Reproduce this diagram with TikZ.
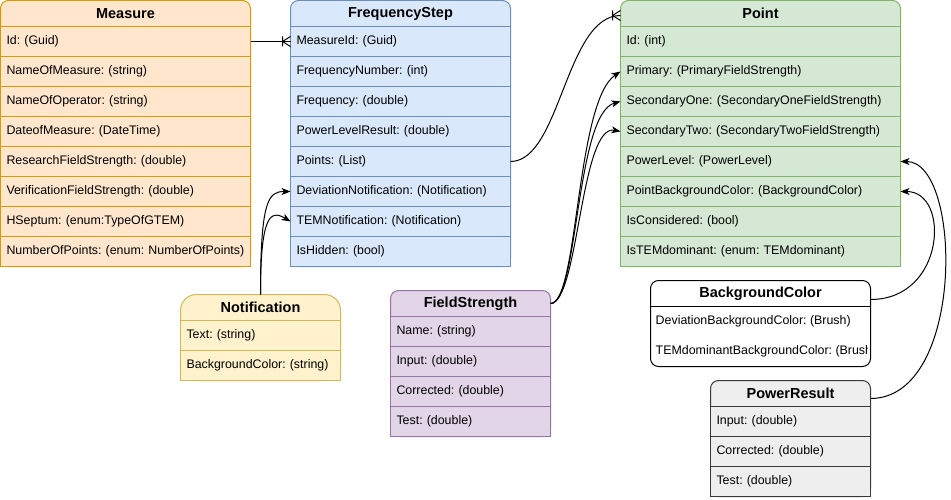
\documentclass[tikz,border=0pt]{standalone}
\usepackage{fontspec}
\setmainfont{Liberation Sans}
\usetikzlibrary{arrows.meta}
\frenchspacing
\hyphenpenalty=10000

\definecolor{measurefill}{HTML}{FFE6CC}
\definecolor{measureline}{HTML}{D79B00}
\definecolor{freqfill}{HTML}{DAE8FC}
\definecolor{freqline}{HTML}{6C8EBF}
\definecolor{pointfill}{HTML}{D5E8D4}
\definecolor{pointline}{HTML}{82B366}
\definecolor{notiffill}{HTML}{FFF2CC}
\definecolor{notifline}{HTML}{D6B656}
\definecolor{fieldfill}{HTML}{E1D5E7}
\definecolor{fieldline}{HTML}{9673A6}
\definecolor{powerfill}{HTML}{EEEEEE}
\definecolor{powerline}{HTML}{36393D}

\tikzset{
  tablebox/.style={draw, line width=1pt, rounded corners=8pt, anchor=north west,
    inner sep=0pt, outer sep=0pt},
  headtext/.style={anchor=north, minimum height=26pt, inner sep=0pt, outer sep=0pt,
    font=\fontsize{14.5}{17}\selectfont\bfseries},
  rowbox/.style={draw, line width=1pt, anchor=north west, minimum height=30pt,
    inner xsep=6pt, inner ysep=0pt, outer sep=0pt, align=left,
    font=\fontsize{12.4}{15}\selectfont},
  rowtext/.style={anchor=west, inner sep=0pt, font=\fontsize{12.4}{15}\selectfont},
  link/.style={line width=1pt, -{Stealth[length=9pt,width=7pt,inset=2.5pt]}},
  crowfoot/.pic={\draw[line width=1pt] (-8pt,0) -- (0,5pt) (-8pt,0) -- (0,-5pt)
    (-8pt,5pt) -- (-8pt,-5pt);}
}

\begin{document}
\begin{tikzpicture}[x=1pt,y=-1pt]
\useasboundingbox (0,0) rectangle (951,500);

% Measure
\node[tablebox, fill=measurefill, draw=measureline, minimum width=250pt, minimum height=266pt] (measure) at (0.5,0.5) {};
\node[headtext, minimum width=250pt] (measure-h) at (measure.north) {Measure};
\foreach \txt [count=\i] in {{Id: (Guid)}, {NameOfMeasure: (string)}, {NameOfOperator: (string)},
    {DateofMeasure: (DateTime)}, {ResearchFieldStrength: (double)}, {VerificationFieldStrength: (double)},
    {HSeptum: (enum:TypeOfGTEM)}, {NumberOfPoints: (enum: NumberOfPoints)}}
  \node[rowbox, fill=measurefill, draw=measureline, text width=238pt] (measure-\i) at (0.5,{26.5+30*(\i-1)}) {\txt};

% FrequencyStep
\node[tablebox, fill=freqfill, draw=freqline, minimum width=220pt, minimum height=266pt] (freq) at (290.5,0.5) {};
\node[headtext, minimum width=220pt] (freq-h) at (freq.north) {FrequencyStep};
\foreach \txt [count=\i] in {{MeasureId: (Guid)}, {FrequencyNumber: (int)}, {Frequency: (double)},
    {PowerLevelResult: (double)}, {Points: (List)}, {DeviationNotification: (Notification)},
    {TEMNotification: (Notification)}, {IsHidden: (bool)}}
  \node[rowbox, fill=freqfill, draw=freqline, text width=208pt] (freq-\i) at (290.5,{26.5+30*(\i-1)}) {\txt};

% Point
\node[tablebox, fill=pointfill, draw=pointline, minimum width=280pt, minimum height=266pt] (point) at (620.5,0.5) {};
\node[headtext, minimum width=280pt] (point-h) at (point.north) {Point};
\foreach \txt [count=\i] in {{Id: (int)}, {Primary: (PrimaryFieldStrength)}, {SecondaryOne: (SecondaryOneFieldStrength)},
    {SecondaryTwo: (SecondaryTwoFieldStrength)}, {PowerLevel: (PowerLevel)},
    {PointBackgroundColor: (BackgroundColor)}, {IsConsidered: (bool)}, {IsTEMdominant: (enum: TEMdominant)}}
  \node[rowbox, fill=pointfill, draw=pointline, text width=268pt] (point-\i) at (620.5,{26.5+30*(\i-1)}) {\txt};

% Notification
\node[tablebox, rounded corners=16pt, fill=notiffill, draw=notifline, minimum width=160pt, minimum height=86pt] (notif) at (180.5,294.5) {};
\node[headtext, minimum width=160pt] (notif-h) at (notif.north) {Notification};
\foreach \txt [count=\i] in {{Text: (string)}, {BackgroundColor: (string)}}
  \node[rowbox, fill=notiffill, draw=notifline, text width=148pt] (notif-\i) at (180.5,{320.5+30*(\i-1)}) {\txt};

% FieldStrength
\node[tablebox, fill=fieldfill, draw=fieldline, minimum width=160pt, minimum height=146pt] (field) at (390.5,290.5) {};
\node[headtext, minimum width=160pt] (field-h) at (field.north) {FieldStrength};
\foreach \txt [count=\i] in {{Name: (string)}, {Input: (double)}, {Corrected: (double)}, {Test: (double)}}
  \node[rowbox, fill=fieldfill, draw=fieldline, text width=148pt] (field-\i) at (390.5,{316.5+30*(\i-1)}) {\txt};

% BackgroundColor
\node[tablebox, fill=white, draw=black, minimum width=220pt, minimum height=86pt] (bgcolor) at (650.5,280.5) {};
\node[headtext, minimum width=220pt] (bgcolor-h) at (bgcolor.north) {BackgroundColor};
\draw[line width=1pt] (bgcolor-h.south west) -- (bgcolor-h.south east);
\begin{scope}
  \clip (651,307) rectangle (867,366);
  \node[rowtext] (bgcolor-1) at (655.5,321.5) {DeviationBackgroundColor: (Brush)};
  \node[rowtext] (bgcolor-2) at (655.5,351.5) {TEMdominantBackgroundColor: (Brush)};
\end{scope}

% PowerResult
\node[tablebox, fill=powerfill, draw=powerline, minimum width=160pt, minimum height=116pt] (power) at (710.5,380.5) {};
\node[headtext, minimum width=160pt] (power-h) at (power.north) {PowerResult};
\foreach \txt [count=\i] in {{Input: (double)}, {Corrected: (double)}, {Test: (double)}}
  \node[rowbox, fill=powerfill, draw=powerline, text width=148pt] (power-\i) at (710.5,{406.5+30*(\i-1)}) {\txt};

% links
\draw[line width=1pt] (measure-1.east) -- (freq-1.west);
\pic at (freq-1.west) {crowfoot};
\draw[line width=1pt] (freq-5.east) .. controls +(50,0) and +(-55,0) .. ([yshift=-2pt]point-h.west);
\pic at ([yshift=-2pt]point-h.west) {crowfoot};

\draw[link] (notif-h.north) .. controls +(0,-95) and +(-22,0) .. (freq-6.west);
\draw[link] (notif-h.north) .. controls +(0,-80) and +(-20,-12) .. (freq-7.west);

\draw[link] (field-h.east) .. controls +(28,0) and +(-45,30) .. (point-2.west);
\draw[link] (field-h.east) .. controls +(28,0) and +(-45,12) .. (point-3.west);
\draw[link] (field-h.east) .. controls +(28,0) and +(-40,-8) .. (point-4.west);

\draw[link] ([yshift=-6pt]bgcolor-h.east) .. controls +(75,0) and +(50,0) .. (point-6.east);
\draw[link] ([yshift=-5pt]power-h.east) .. controls +(95,0) and +(62,0) .. (point-5.east);
\end{tikzpicture}
\end{document}
